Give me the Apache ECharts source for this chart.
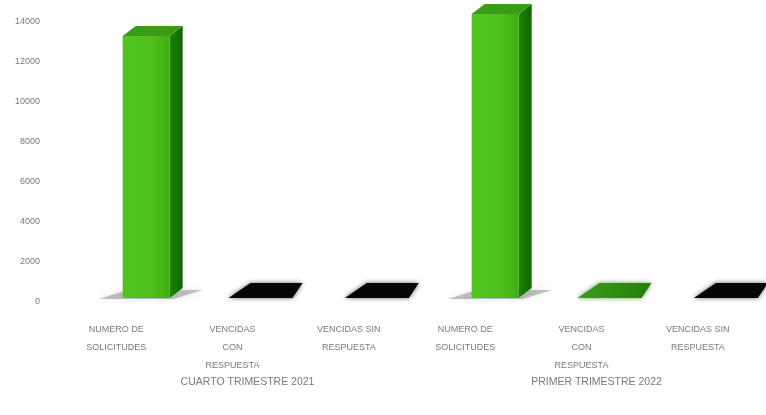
<!DOCTYPE html>
<html>
<head>
<meta charset="utf-8">
<script src="https://cdn.jsdelivr.net/npm/echarts@6/dist/echarts.min.js"></script>
<style>
  html, body { margin: 0; padding: 0; background: #ffffff; }
  #chart { width: 766px; height: 415px; }
</style>
</head>
<body>
<div id="chart"></div>
<script>
// Solicitudes por trimestre
const categories = [
  'NUMERO DE\nSOLICITUDES', 'VENCIDAS\nCON\nRESPUESTA', 'VENCIDAS SIN\nRESPUESTA',
  'NUMERO DE\nSOLICITUDES', 'VENCIDAS\nCON\nRESPUESTA', 'VENCIDAS SIN\nRESPUESTA'
];
const groups = ['CUARTO TRIMESTRE 2021', 'PRIMER TRIMESTRE 2022'];
const values = [13100, 0, 0, 14200, 50, 0];
const yTicks = { min: 0, max: 14000, step: 2000 };

const chart = echarts.init(document.getElementById('chart'), null, { renderer: 'canvas' });

const FONT = 'Liberation Sans';
const TEXT = '#7a7a7a';

// Pseudo‑3D column: front face, right side, top face, plus floor shadow
function renderBar(params, api) {
  const idx = api.value(0);
  const v = api.value(1);
  const base = api.coord([idx, 0]);
  const top = api.coord([idx, v]);
  const shiftX = 30, lift = 4, w = 47, dx = 13, dy = -10;
  const cx = base[0] + shiftX;
  const x0 = cx - w / 2, x1 = cx + w / 2;
  const yb = base[1] - lift;
  const yt = top[1] - lift;
  const h = yb - yt;
  const children = [];

  if (h >= 4) {
    // soft shadow on the floor
    children.push({
      type: 'polygon',
      shape: { points: [[x0 - 24, yb + 1], [x1 + 4, yb + 1], [x1 + dx + 20, yb + dy + 2], [x0 + dx - 8, yb + dy + 2]] },
      style: { fill: 'rgba(90,90,90,0.35)', shadowBlur: 6, shadowColor: 'rgba(90,90,90,0.5)' },
      z2: 0
    });
    // side face
    children.push({
      type: 'polygon',
      shape: { points: [[x1, yb], [x1 + dx, yb + dy], [x1 + dx, yt + dy], [x1, yt]] },
      style: {
        fill: new echarts.graphic.LinearGradient(0, 0, 1, 0, [
          { offset: 0, color: '#1c8508' }, { offset: 1, color: '#0f6403' }
        ])
      },
      z2: 1
    });
    // front face
    children.push({
      type: 'rect',
      shape: { x: x0, y: yt, width: w, height: h },
      style: {
        fill: new echarts.graphic.LinearGradient(0, 0, 1, 0, [
          { offset: 0, color: '#52c421' }, { offset: 0.6, color: '#4fc01d' }, { offset: 1, color: '#3fae14' }
        ])
      },
      z2: 2
    });
    // top face
    children.push({
      type: 'polygon',
      shape: { points: [[x0, yt], [x1, yt], [x1 + dx, yt + dy], [x0 + dx, yt + dy]] },
      style: { fill: '#3a9c16' },
      z2: 3
    });
  } else {
    // near‑zero column: only its flat cap is visible
    const pts = [[cx - 34, yb], [cx + 30, yb], [cx + 40, yb - 15], [cx - 12, yb - 15]];
    const isPositive = v > 0;
    children.push({
      type: 'polygon',
      shape: { points: pts },
      style: {
        fill: isPositive
          ? new echarts.graphic.LinearGradient(0, 0, 1, 0, [
              { offset: 0, color: '#3d9a1a' }, { offset: 0.5, color: '#2f8f10' }, { offset: 1, color: '#277d0c' }
            ])
          : '#050505',
        shadowBlur: 5,
        shadowColor: isPositive ? 'rgba(40,110,20,0.7)' : 'rgba(0,0,0,0.6)'
      },
      z2: 2
    });
  }
  return { type: 'group', children };
}

chart.setOption({
  animation: false,
  backgroundColor: '#ffffff',
  grid: { left: 58, right: 10, top: 22, bottom: 113, containLabel: false },
  xAxis: [
    {
      type: 'category',
      data: categories,
      axisLine: { show: false },
      axisTick: { show: false },
      axisLabel: {
        interval: 0,
        margin: 19,
        color: TEXT,
        fontFamily: FONT,
        fontSize: 9,
        lineHeight: 18
      }
    },
    {
      type: 'category',
      data: groups,
      position: 'bottom',
      axisLine: { show: false },
      axisTick: { show: false },
      axisLabel: {
        interval: 0,
        margin: 75,
        color: TEXT,
        fontFamily: FONT,
        fontSize: 10.5,
        padding: [0, 0, 0, 30]
      }
    }
  ],
  yAxis: {
    type: 'value',
    min: yTicks.min,
    max: yTicks.max,
    interval: yTicks.step,
    axisLine: { show: false },
    axisTick: { show: false },
    splitLine: { show: false },
    axisLabel: {
      margin: 18,
      color: TEXT,
      fontFamily: FONT,
      fontSize: 9,
      formatter: (val) => String(val)
    }
  },
  series: [{
    type: 'custom',
    xAxisIndex: 0,
    renderItem: renderBar,
    data: values.map((v, i) => [i, v]),
    clip: false
  }]
});
</script>
</body>
</html>
